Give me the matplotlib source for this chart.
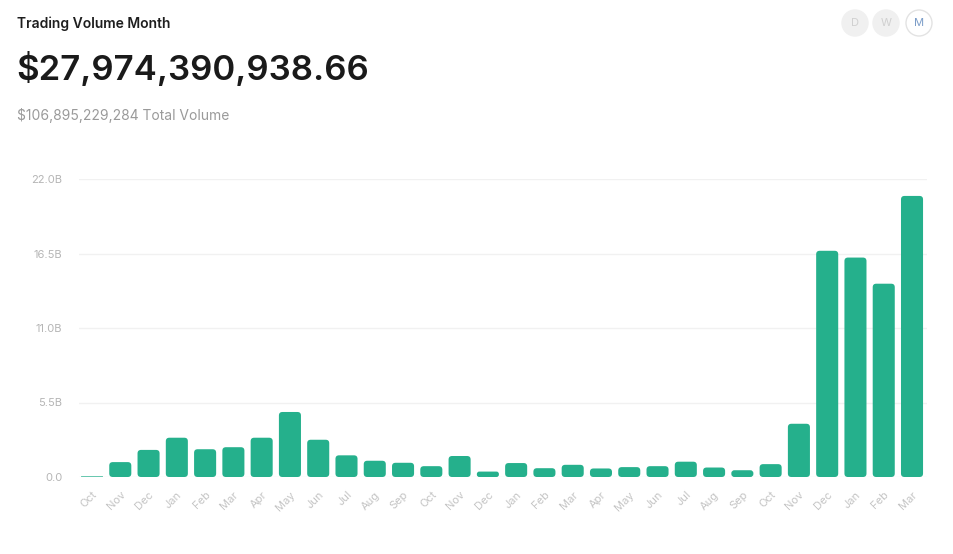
import matplotlib.pyplot as plt
from matplotlib.patches import FancyBboxPatch, Circle

plt.rcParams["font.family"] = ["Inter", "DejaVu Sans"]

months = ['Oct', 'Nov', 'Dec', 'Jan', 'Feb', 'Mar', 'Apr', 'May', 'Jun', 'Jul',
          'Aug', 'Sep', 'Oct', 'Nov', 'Dec', 'Jan', 'Feb', 'Mar', 'Apr', 'May',
          'Jun', 'Jul', 'Aug', 'Sep', 'Oct', 'Nov', 'Dec', 'Jan', 'Feb', 'Mar']
# monthly volume in billions of dollars
volume = [0.05, 1.1, 2.0, 2.9, 2.05, 2.2, 2.9, 4.8, 2.75, 1.6,
          1.2, 1.05, 0.8, 1.55, 0.4, 1.03, 0.65, 0.9, 0.63, 0.73,
          0.8, 1.13, 0.7, 0.5, 0.95, 3.93, 16.7, 16.2, 14.27, 20.75]
yticks = [0.0, 5.5, 11.0, 16.5, 22.0]
ytick_labels = ['0.0', '5.5B', '11.0B', '16.5B', '22.0B']

title = "Trading Volume Month"
headline = "$27,974,390,938.66"
total = "$106,895,229,284 Total Volume"

W, H = 954, 554
fig = plt.figure(figsize=(W / 100, H / 100), dpi=100)
ax = fig.add_axes([79 / W, (H - 477) / H, 848 / W, 298 / H])

green = '#25b08c'
x = list(range(len(volume)))
bars = ax.bar(x, volume, width=0.78, color=green)
ax.set_xlim(-0.46, len(volume) - 0.47)
ax.set_ylim(0, 22)

# replace the square bars with rounded ones
px_x = (len(volume) - 0.01) / 848
px_y = 22 / 298
for b in bars:
    b.set_visible(False)
    h = b.get_height()
    r = min(3.5 * px_x, 0.45 * h / px_y * px_x)
    ax.add_patch(FancyBboxPatch((b.get_x(), 0), b.get_width(), h,
                                boxstyle="round,pad=0,rounding_size=%f" % r,
                                mutation_aspect=px_y / px_x,
                                facecolor=green, edgecolor='none', zorder=3))

for sp in ax.spines.values():
    sp.set_visible(False)
ax.set_yticks(yticks)
ax.set_yticklabels(ytick_labels)
ax.grid(axis='y', color='#f1f1f1', linewidth=1)
ax.set_axisbelow(True)
ax.tick_params(axis='y', length=0, pad=12, labelsize=8, labelcolor='#b5b5b5')
ax.set_xticks(x)
ax.set_xticklabels(months, rotation=45, ha='right', va='top', rotation_mode='anchor')
ax.tick_params(axis='x', length=0, pad=9, labelsize=8, labelcolor='#c4c4c4')

fig.text(17 / W, 1 - 24 / H, title, fontsize=10, fontweight='semibold',
         color='#1e1e1e', va='center')
fig.text(16 / W, 1 - 69 / H, headline, fontsize=25, fontweight='semibold',
         color='#1a1a1a', va='center')
fig.text(17 / W, 1 - 115 / H, total, fontsize=10, color='#9a9a9a', va='center')

# period toggle buttons
for cx, lab, active in [(855, 'D', False), (886, 'W', False), (919, 'M', True)]:
    c = Circle((cx / 100, (H - 23) / 100), 13 / 100,
               transform=fig.dpi_scale_trans,
               facecolor='white' if active else '#f0f0f0',
               edgecolor='#e3e3e3' if active else '#f0f0f0', linewidth=1)
    fig.add_artist(c)
    fig.text(cx / W, 1 - 23 / H, lab, fontsize=8,
             color='#7a9cc8' if active else '#d0d0d0', ha='center', va='center')

fig.savefig('out.png', dpi=100, facecolor='white')
